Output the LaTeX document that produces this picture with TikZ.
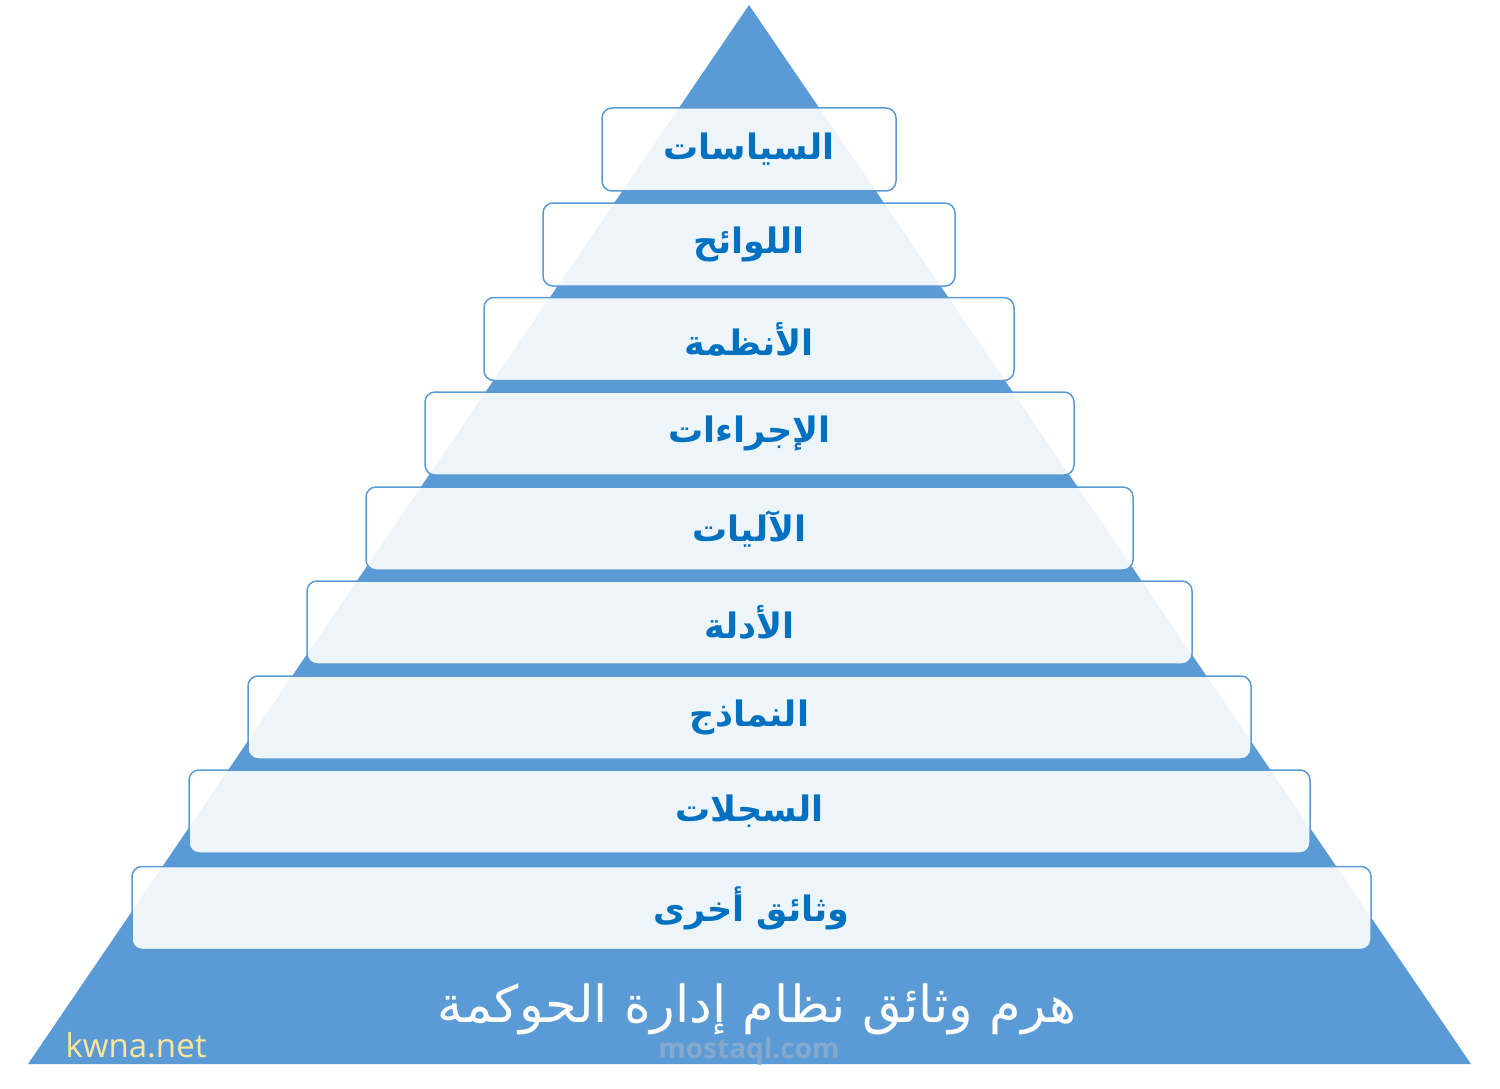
\documentclass[tikz,border=0pt]{standalone}
\usepackage{fontspec}
\setmainfont{Open Sans}
\newfontfamily\arabicfont[Script=Arabic]{DejaVu Sans}
\TeXXeTstate=1
\definecolor{pyrblue}{HTML}{5B9BD5}
\definecolor{textblue}{HTML}{0070C0}
\definecolor{siteyellow}{HTML}{FFE699}
\definecolor{markgray}{HTML}{86A8CC}

\begin{document}
\begin{tikzpicture}[x=1pt,y=-1pt]
\tikzstyle{every node}+=[inner sep=0pt]
\tikzstyle{level}=[draw=pyrblue, line width=1.5pt, rounded corners=10pt, fill=white, fill opacity=0.9, text opacity=1, minimum height=83pt, text=textblue, font=\arabicfont\bfseries\fontsize{35}{42}\selectfont]
\tikzstyle{caption}=[text=white, font=\arabicfont\fontsize{51}{60}\selectfont]
\useasboundingbox (0,0) rectangle (1500,1089);
\coordinate (apex) at (749,5);
\coordinate (baseL) at (28,1064);
\coordinate (baseR) at (1471,1064);
\fill [pyrblue] (apex) -- (baseR) -- (baseL) -- cycle;
\node [level, minimum width=294pt] (siyasat) at (749,149.5) {\beginR السياسات\endR};
\node [level, minimum width=412pt] (lawaeh) at (749,244.5) {\beginR اللوائح\endR};
\node [level, minimum width=530pt] (anzima) at (749,339) {\beginR الأنظمة\endR};
\node [level, minimum width=649pt] (ijraat) at (749.5,433.5) {\beginR الإجراءات\endR};
\node [level, minimum width=767pt] (aliyat) at (749.5,528.5) {\beginR الآليات\endR};
\node [level, minimum width=885pt] (adilla) at (749.5,622.5) {\beginR الأدلة\endR};
\node [level, minimum width=1003pt] (namazij) at (749.5,717.5) {\beginR النماذج\endR};
\node [level, minimum width=1121pt] (sijillat) at (749.5,811.5) {\beginR السجلات\endR};
\node [level, minimum width=1239pt] (ukhra) at (751.5,908) {\beginR وثائق أخرى\endR};
\node [caption] (title) at (757,1009) {\beginR هرم وثائق نظام إدارة الحوكمة\endR};
\node [text=siteyellow, font=\fontsize{33}{40}\selectfont] (kwna) at (136,1045) {kwna.net};
\node [text=markgray, font=\bfseries\fontsize{28}{34}\selectfont] (mostaql) at (749,1051) {mostaql.com};
\end{tikzpicture}
\end{document}
